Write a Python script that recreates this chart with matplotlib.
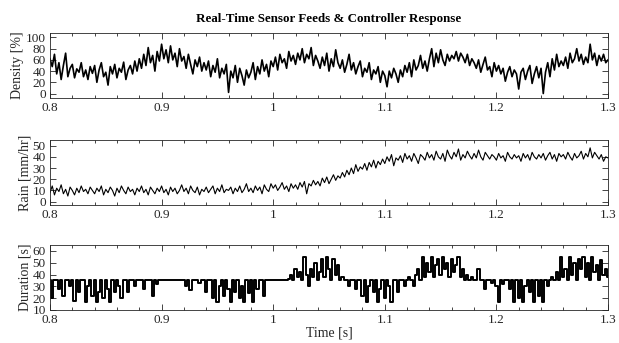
import numpy as np
import matplotlib
matplotlib.use("Agg")
import matplotlib.pyplot as plt
from matplotlib.ticker import MultipleLocator

# Time base: 0.8 s to 1.3 s, one reading every 2 ms
t_start = 0.8
t_step = 0.002

density = [
    62, 48, 70, 35, 55, 25, 50, 72, 30, 45,
    52, 28, 44, 38, 55, 30, 42, 25, 48, 36,
    50, 20, 42, 55, 30, 38, 15, 48, 35, 52,
    28, 45, 38, 56, 25, 42, 50, 35, 58, 40,
    62, 45, 70, 50, 82, 55, 68, 40, 75, 58,
    88, 62, 78, 55, 85, 60, 72, 48, 80, 58,
    66, 45, 70, 52, 35, 60, 48, 65, 40, 55,
    42, 58, 30, 50, 38, 62, 28, 45, 35, 52,
    2, 40, 28, 50, 20, 45, 32, 15, 42, 28,
    38, 55, 25, 48, 35, 60, 40, 52, 30, 58,
    48, 65, 42, 70, 55, 62, 45, 75, 58, 68,
    52, 72, 60, 80, 55, 70, 62, 82, 50, 68,
    58, 45, 65, 50, 72, 40, 62, 48, 78, 55,
    45, 60, 38, 52, 70, 42, 55, 35, 48, 58,
    30, 45, 38, 55, 25, 42, 35, 48, 20, 40,
    32, 12, 40, 28, 45, 35, 20, 42, 30, 50,
    38, 55, 30, 60, 42, 50, 68, 45, 58, 40,
    62, 80, 48, 72, 55, 78, 60, 50, 70, 58,
    68, 62, 75, 58, 72, 65, 55, 70, 50, 62,
    55, 45, 60, 38, 52, 65, 42, 48, 30, 55,
    40, 50, 35, 45, 22, 38, 48, 30, 42, 35,
    8, 38, 45, 25, 40, 50, 18, 35, 48, 28,
    45, 0, 38, 55, 30, 62, 42, 70, 48, 58,
    50, 65, 45, 72, 55, 62, 80, 58, 70, 52,
    65, 55, 88, 60, 72, 50, 68, 58, 70, 55,
    60,
]

rain = [
    8, 14, 6, 12, 9, 15, 7, 11, 5, 13,
    10, 6, 12, 8, 14, 9, 11, 7, 13, 10,
    7, 12, 9, 14, 6, 11, 8, 13, 10, 5,
    12, 8, 14, 10, 7, 13, 9, 11, 6, 12,
    9, 14, 8, 11, 6, 13, 10, 7, 12, 9,
    14, 8, 11, 6, 13, 9, 12, 7, 10, 15,
    9, 12, 7, 14, 10, 8, 13, 6, 11, 9,
    13, 8, 11, 14, 7, 12, 9, 15, 8, 11,
    10, 13, 7, 12, 9, 14, 8, 11, 16, 9,
    12, 8, 14, 10, 13, 7, 15, 11, 9, 16,
    12, 15, 10, 13, 17, 11, 14, 9, 16, 12,
    15, 11, 17, 13, 18, 7, 16, 14, 19, 15,
    18, 14, 21, 17, 22, 16, 20, 24, 19, 23,
    21, 26, 22, 28, 24, 30, 25, 33, 27, 31,
    29, 34, 28, 35, 31, 37, 30, 36, 33, 38,
    34, 40, 36, 42, 32, 39, 37, 41, 35, 43,
    38, 41, 36, 43, 39, 34, 42, 40, 37, 44,
    39, 42, 37, 45, 40, 38, 43, 36, 46, 41,
    38, 44, 40, 47, 37, 42, 39, 45, 41, 38,
    43, 39, 46, 40, 37, 44, 41, 38, 42, 40,
    37, 43, 39, 41, 36, 44, 40, 38, 42, 39,
    41, 36, 43, 39, 42, 37, 44, 40, 38, 42,
    39, 43, 37, 41, 44, 38, 42, 36, 43, 40,
    42, 38, 44, 40, 37, 43, 39, 41, 45, 38,
    43, 40, 48, 39, 44, 41, 38, 42, 36, 40,
    39,
]

duration = [
    35, 20, 35, 35, 28, 35, 22, 35, 35, 30,
    35, 18, 35, 25, 35, 35, 17, 30, 35, 22,
    35, 17, 25, 35, 20, 35, 28, 17, 35, 25,
    35, 30, 20, 35, 35, 25, 35, 35, 30, 35,
    35, 35, 28, 35, 35, 35, 22, 35, 32, 35,
    35, 35, 35, 35, 35, 35, 35, 35, 35, 35,
    35, 30, 35, 27, 35, 35, 35, 33, 35, 35,
    25, 35, 35, 20, 35, 17, 30, 35, 22, 35,
    28, 17, 35, 25, 35, 20, 30, 17, 35, 24,
    35, 17, 35, 28, 35, 35, 22, 35, 35, 35,
    35, 35, 35, 35, 35, 35, 35, 36, 40, 35,
    45, 38, 42, 35, 55, 40, 30, 45, 38, 50,
    35, 42, 53, 38, 55, 45, 35, 53, 40, 48,
    35, 38, 35, 35, 30, 35, 35, 28, 35, 35,
    22, 35, 17, 30, 35, 25, 35, 17, 28, 35,
    20, 35, 30, 17, 35, 35, 25, 35, 35, 30,
    35, 38, 35, 30, 40, 45, 35, 55, 38, 50,
    42, 55, 38, 48, 53, 40, 55, 45, 50, 38,
    53, 42, 48, 55, 38, 45, 35, 40, 35, 38,
    35, 35, 45, 35, 35, 28, 35, 35, 33, 35,
    30, 17, 35, 32, 35, 35, 28, 35, 17, 35,
    20, 35, 17, 30, 35, 25, 35, 17, 35, 22,
    35, 17, 35, 30, 35, 38, 35, 42, 35, 55,
    38, 45, 35, 55, 40, 50, 35, 53, 45, 55,
    38, 50, 35, 55, 42, 48, 35, 52, 40, 45,
    38,
]

time = t_start + t_step * np.arange(len(density))

plt.rcParams["font.family"] = ["Liberation Serif", "DejaVu Serif"]
grey = (0.15, 0.15, 0.15)

W, H = 619, 343
fig = plt.figure(figsize=(W / 100, H / 100), dpi=100)

# axes boxes in pixels: (top, bottom)
boxes = [(33, 98), (140, 205), (245, 310)]
left, right = 50, 608

panels = [
    (density, "Density [%]", (-8, 108), [0, 20, 40, 60, 80, 100], 1.2, "default"),
    (rain, "Rain [mm/hr]", (-3, 55), [0, 10, 20, 30, 40, 50], 0.8, "default"),
    (duration, "Duration [s]", (10, 65), [10, 20, 30, 40, 50, 60], 1.4, "steps-mid"),
]

for (top, bot), (vals, label, ylim, yticks, lw, ds) in zip(boxes, panels):
    ax = fig.add_axes([left / W, 1 - bot / H, (right - left) / W, (bot - top) / H])
    ax.plot(time, vals, color="black", linewidth=lw, drawstyle=ds)
    ax.set_xlim(0.8, 1.3)
    ax.set_ylim(*ylim)
    ax.set_yticks(yticks)
    ax.set_xticks([0.8, 0.9, 1.0, 1.1, 1.2, 1.3])
    ax.set_xticklabels(["0.8", "0.9", "1", "1.1", "1.2", "1.3"])
    ax.xaxis.set_minor_locator(MultipleLocator(0.02))
    ax.tick_params(which="both", direction="in", top=True, right=True,
                   colors=grey, labelsize=9.5, width=0.6, pad=3)
    ax.tick_params(which="major", length=4)
    ax.tick_params(which="minor", length=2)
    for s in ax.spines.values():
        s.set_color(grey)
        s.set_linewidth(0.6)
    ax.set_ylabel(label, fontsize=10, color=grey, labelpad=1)
    if label.startswith("Duration"):
        ax.set_xlabel("Time [s]", fontsize=10, color=grey, labelpad=0)
    if label.startswith("Density"):
        ax.set_title("Real-Time Sensor Feeds & Controller Response",
                     fontsize=9.4, fontweight="bold", pad=8)

fig.savefig("out.png", dpi=100)
